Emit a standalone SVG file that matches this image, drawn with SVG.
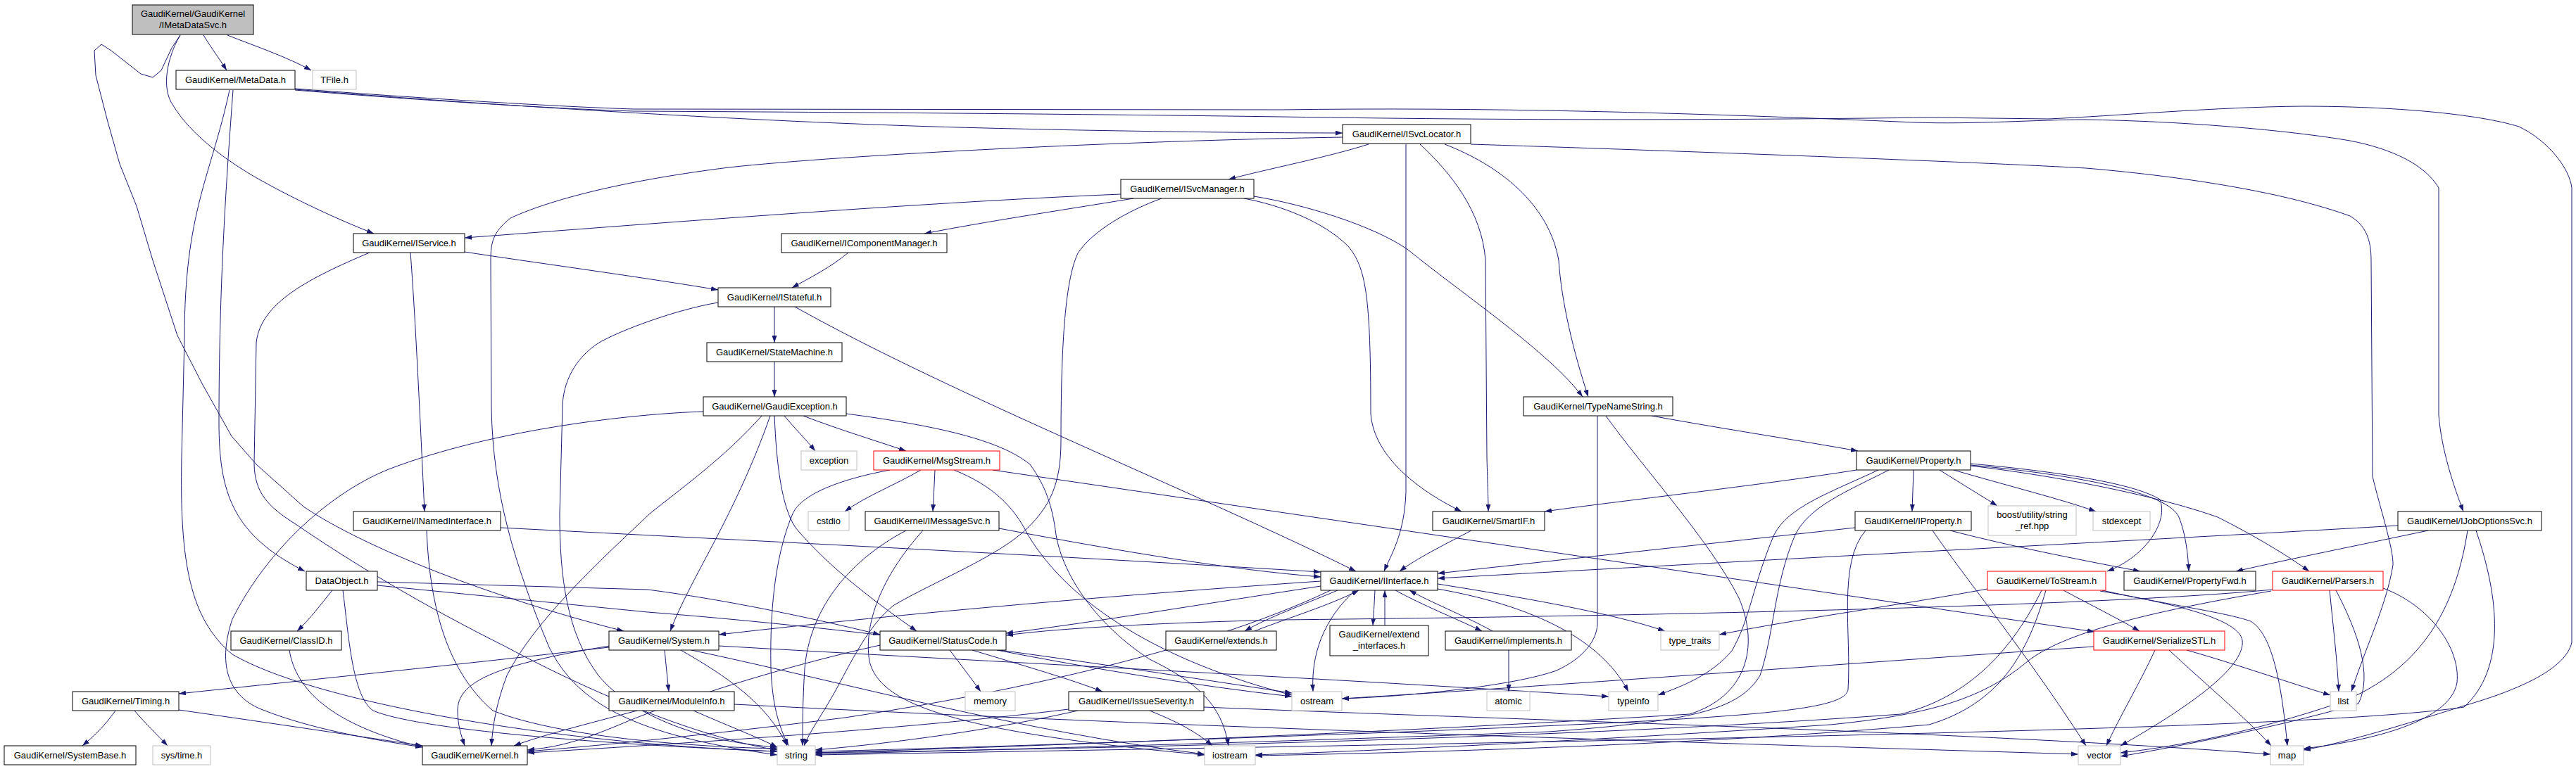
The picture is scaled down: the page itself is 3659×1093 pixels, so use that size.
<svg xmlns="http://www.w3.org/2000/svg" width="3659" height="1093" viewBox="0 0 3659 1093">
<style>
.node rect{fill:#ffffff;stroke:#000000;stroke-width:1}
.node.gr rect{stroke:#bfbfbf}
.node.rd rect{stroke:#ff0000}
.node.root rect{fill:#bfbfbf}
.node text{font-family:"Liberation Sans",Arial,Helvetica,sans-serif;font-size:13px;text-anchor:middle;fill:#000000}
#edges path{fill:none;stroke:#191970;stroke-width:1;marker-end:url(#a)}
</style>
<defs>
<marker id="a" viewBox="0 0 10 7" refX="10" refY="3.5" markerWidth="10" markerHeight="7" markerUnits="userSpaceOnUse" orient="auto"><path d="M0,0 L10,3.5 L0,7 z" fill="#191970"/></marker>
</defs>
<rect width="3659" height="1093" fill="#ffffff"/>
<g id="edges">
<path d="M289,50 C300,68 312,84 322,100"/>
<path d="M323,50 C364,66 410,82 442,100"/>
<path d="M256,50 C238,80 228,125 246,150 C270,190 320,228 370,256 C420,284 480,312 531,332"/>
<path d="M256,50 L244,68 L229,100 L217,110 L200,105 L158,72 L144,63 L134,72 L136,107 L153,173 L170,233 L194,293 L217,370 L252,477 L288,547 L329,620 L364,660 L431,720 C520,780 700,850 886,897"/>
<path d="M419,127 C700,150 1100,175 1400,182 C1600,187 1800,189 1907,189"/>
<path d="M419,126 C600,140 800,152 900,155 L1820,156 C2100,152 2400,160 2720,174 C2800,177 2900,170 2960,170 C3100,172 3250,185 3338,200 C3400,212 3445,235 3464,267 L3464,590 C3468,640 3485,690 3499,727"/>
<path d="M419,128 C600,143 800,155 900,158 C1300,160 1600,163 1820,166 C2200,172 2500,170 2740,167 L2910,169 C3000,165 3150,152 3270,151 C3400,151 3520,162 3578,180 C3620,200 3650,240 3653,267 L3653,913 C3645,950 3580,980 3500,1003 C3400,1035 3320,1058 3272,1066"/>
<path d="M331,128 C322,250 311,400 311,600 C311,700 330,760 433,812"/>
<path d="M326,128 C300,250 262,300 262,480 L258,650 C255,800 270,880 330,930 C450,1000 800,1058 1104,1068"/>
<path d="M1944,205 C1880,225 1800,240 1745,255"/>
<path d="M1997,205 L1997,700 C1995,760 1975,790 1966,812"/>
<path d="M2017,205 C2060,245 2105,300 2110,370 L2112,650 C2113,690 2114,710 2114,727"/>
<path d="M2052,205 C2130,235 2200,290 2214,370 C2218,430 2235,500 2256,564"/>
<path d="M2089,205 C2400,215 2800,230 2963,239 C3115,252 3250,275 3338,307 C3360,320 3368,340 3368,370 L3370,677 C3380,720 3400,780 3399,803 C3390,860 3360,920 3340,983"/>
<path d="M1907,195 C1600,200 1200,220 1035,238 C900,255 790,280 725,310 C700,330 697,345 697,370 L698,580 C700,700 730,800 780,920 C820,1000 900,1045 1104,1073"/>
<path d="M1592,276 C1300,288 900,320 660,338"/>
<path d="M1610,282 C1500,300 1400,315 1313,332"/>
<path d="M1650,282 C1600,300 1550,330 1531,360 C1512,400 1507,500 1507,627 C1507,690 1490,720 1460,750 C1420,790 1330,825 1270,860 C1230,890 1200,960 1182,990 C1165,1020 1150,1040 1142,1060"/>
<path d="M1767,282 C1820,292 1880,315 1915,350 C1940,380 1947,420 1947,587 C1950,640 2000,690 2076,727"/>
<path d="M1781,279 C1850,290 1950,320 2000,355 C2080,420 2200,500 2248,564"/>
<path d="M1205,359 C1180,380 1150,395 1125,409"/>
<path d="M660,358 C750,372 900,392 1020,412"/>
<path d="M583,359 C590,450 597,600 603,727"/>
<path d="M525,359 C440,395 370,430 364,487 L361,660 C362,700 380,720 420,745 C500,800 600,860 720,920 C850,990 1000,1050 1104,1066"/>
<path d="M1100,436 L1100,487"/>
<path d="M1129,436 C1350,560 1700,700 1926,812"/>
<path d="M1020,430 C960,440 880,470 851,487 C815,510 800,545 799,577 L795,730 C795,820 805,900 850,960 C900,1020 1000,1055 1104,1062"/>
<path d="M1100,514 L1100,564"/>
<path d="M1114,591 C1130,610 1145,625 1158,641"/>
<path d="M1141,591 C1190,610 1240,625 1287,641"/>
<path d="M1094,591 C1070,660 1040,720 1030,740 C1000,800 970,850 952,897"/>
<path d="M1100,591 C1103,660 1110,720 1130,750 C1180,810 1250,860 1302,897"/>
<path d="M999,585 C900,588 700,610 552,667 C470,700 380,780 330,880 C310,940 320,990 376,1010 C440,1035 520,1050 600,1062"/>
<path d="M1082,591 C1030,650 960,700 923,730 C860,790 760,880 720,960 C705,1000 700,1030 698,1060"/>
<path d="M1202,588 C1330,605 1420,625 1463,660 C1485,690 1495,720 1500,760 C1510,820 1560,890 1633,937 C1700,970 1735,1000 1745,1060"/>
<path d="M1308,668 C1270,690 1230,705 1200,727"/>
<path d="M1328,668 C1327,690 1326,710 1325,727"/>
<path d="M1264,668 C1200,680 1140,700 1126,730 C1105,780 1093,850 1095,950 C1097,1000 1105,1030 1120,1060"/>
<path d="M1355,668 C1410,690 1440,720 1460,760 C1520,860 1650,940 1835,988"/>
<path d="M1410,668 L2975,898"/>
<path d="M1419,751 C1600,785 1750,810 1876,820"/>
<path d="M1287,754 C1200,800 1150,870 1143,950 C1140,1000 1140,1030 1140,1060"/>
<path d="M1311,754 C1260,810 1225,880 1235,940 C1250,1000 1350,1040 1711,1073"/>
<path d="M2346,591 C2450,610 2550,625 2639,641"/>
<path d="M2269,591 L2269,887 C2268,910 2250,935 2211,953 C2150,975 2000,990 1906,993"/>
<path d="M2281,591 C2330,660 2430,770 2470,850 C2500,920 2480,990 2400,1015 C2000,1040 1500,1060 1158,1070"/>
<path d="M2637,668 C2500,690 2300,712 2194,727"/>
<path d="M2668,668 C2600,700 2540,720 2520,760 C2490,830 2486,880 2460,925 C2430,960 2390,975 2355,988"/>
<path d="M2683,668 C2620,700 2570,720 2550,760 C2520,830 2520,900 2500,960 C2470,1010 2400,1025 2200,1040 C1800,1055 1400,1066 1158,1072"/>
<path d="M2718,668 L2716,727"/>
<path d="M2755,668 C2790,690 2815,705 2837,719"/>
<path d="M2775,668 C2850,690 2930,710 2977,727"/>
<path d="M2799,659 C2900,668 3030,685 3068,710 C3080,740 3050,790 2993,812"/>
<path d="M2799,661 C2950,675 3080,700 3095,735 C3105,760 3108,790 3109,812"/>
<path d="M2799,662 C2950,680 3080,710 3150,735 C3200,760 3250,790 3280,812"/>
<path d="M2635,750 L2042,815"/>
<path d="M2770,754 C2850,775 2950,795 3040,812"/>
<path d="M2745,754 C2790,820 2880,930 2963,1060"/>
<path d="M2650,754 C2610,800 2630,900 2625,980 C2620,1010 2500,1020 2000,1040 C1600,1055 1300,1065 1158,1068"/>
<path d="M3406,747 C3100,765 2700,785 2042,822"/>
<path d="M3449,754 C3350,775 3250,795 3176,812"/>
<path d="M3505,754 C3490,850 3450,950 3320,1000 C3200,1040 3100,1060 3012,1070"/>
<path d="M3517,754 C3550,850 3560,950 3500,1005 C3300,1035 2500,1050 1158,1073"/>
<path d="M3385,836 C3450,860 3495,920 3490,970 C3480,1030 3350,1055 3272,1064"/>
<path d="M3309,839 C3314,890 3320,940 3322,983"/>
<path d="M3318,839 C3350,900 3370,960 3350,1000 C3250,1030 3100,1060 3012,1075"/>
<path d="M3228,838 C3000,860 2400,875 1820,881 C1650,885 1500,893 1429,903"/>
<path d="M3226,840 C3050,870 2930,900 2880,940 C2820,990 2750,1015 2600,1030 C2300,1050 2000,1065 1783,1073"/>
<path d="M2931,839 C2970,860 3010,880 3039,897"/>
<path d="M2986,839 C3080,860 3160,870 3197,883 C3225,900 3240,960 3249,1060"/>
<path d="M2983,840 C3090,858 3180,880 3185,910 C3190,950 3100,1010 3012,1060"/>
<path d="M2823,837 C2700,860 2550,880 2442,902"/>
<path d="M2900,839 C2860,920 2800,990 2700,1015 C2300,1045 1700,1062 1158,1070"/>
<path d="M2906,839 C2880,930 2840,1000 2740,1030 C2400,1060 2000,1070 1783,1074"/>
<path d="M3061,924 C3040,970 3010,1020 2992,1060"/>
<path d="M3081,924 C3130,970 3190,1020 3226,1060"/>
<path d="M3106,924 C3180,945 3250,970 3310,988"/>
<path d="M2974,919 C2600,945 2200,975 1906,993"/>
<path d="M2090,754 C2050,775 2010,795 1988,812"/>
<path d="M1876,826 C1600,845 1300,870 1021,902"/>
<path d="M1876,833 C1700,860 1550,885 1429,900"/>
<path d="M1890,839 C1700,930 1400,990 1200,1020 C1000,1045 850,1060 749,1068"/>
<path d="M1900,839 C1850,860 1800,878 1768,897"/>
<path d="M1782,897 C1830,878 1890,860 1930,839"/>
<path d="M1953,839 C1952,860 1951,875 1950,889"/>
<path d="M1967,889 C1967,870 1967,855 1967,839"/>
<path d="M1982,839 C2020,860 2070,880 2105,897"/>
<path d="M2120,897 C2080,875 2030,855 2002,839"/>
<path d="M2143,924 L2143,983"/>
<path d="M1925,839 C1880,880 1862,930 1865,983"/>
<path d="M2042,837 C2200,865 2280,920 2313,983"/>
<path d="M2042,830 C2200,855 2300,875 2365,897"/>
<path d="M1349,924 C1365,945 1380,965 1393,983"/>
<path d="M1381,924 C1450,945 1520,965 1566,983"/>
<path d="M1416,924 C1550,950 1700,975 1835,990"/>
<path d="M1250,917 C1100,950 950,1000 880,1030 C820,1055 790,1062 749,1066"/>
<path d="M1633,1010 C1670,1025 1700,1040 1722,1060"/>
<path d="M1531,1010 C1400,1040 1250,1058 1158,1066"/>
<path d="M1710,1005 C2200,1025 2800,1040 3225,1072"/>
<path d="M1518,1008 C1300,1035 1000,1055 749,1070"/>
<path d="M865,920 C650,945 450,965 254,986"/>
<path d="M944,924 C946,945 948,965 950,983"/>
<path d="M866,918 C700,945 650,970 650,1010 C650,1030 655,1045 660,1060"/>
<path d="M967,924 C1030,960 1090,1000 1118,1060"/>
<path d="M1021,918 C1400,940 1900,965 2285,990"/>
<path d="M982,924 C1200,970 1450,1040 1711,1072"/>
<path d="M472,839 C455,860 440,880 422,897"/>
<path d="M487,839 C495,900 500,990 530,1010 C600,1040 900,1060 1104,1068"/>
<path d="M536,827 L920,838 C1050,855 1180,885 1250,902"/>
<path d="M536,832 L920,870 C1300,900 1600,950 1835,985"/>
<path d="M411,924 C420,980 470,1030 600,1062"/>
<path d="M164,1010 C150,1030 135,1045 117,1060"/>
<path d="M191,1010 C208,1030 224,1045 238,1060"/>
<path d="M254,1009 C400,1030 500,1045 600,1060"/>
<path d="M905,1010 C830,1030 770,1045 730,1060"/>
<path d="M985,1010 C1030,1030 1070,1045 1104,1062"/>
<path d="M1043,1001 C1700,1035 2400,1055 2952,1072"/>
<path d="M711,750 C1100,770 1500,790 1876,813"/>
<path d="M606,754 C610,850 630,950 700,1010 C800,1050 1000,1062 1104,1064"/>
</g>
<g id="n-root" class="node root"><rect x="188" y="7" width="172" height="42"/><text x="274" y="24">GaudiKernel/GaudiKernel</text><text x="274" y="40">/IMetaDataSvc.h</text></g>
<g id="n-MetaData" class="node"><rect x="250" y="100" width="169" height="27"/><text x="334.5" y="118">GaudiKernel/MetaData.h</text></g>
<g id="n-TFile" class="node gr"><rect x="444" y="100" width="62" height="27"/><text x="475" y="118">TFile.h</text></g>
<g id="n-IService" class="node"><rect x="502" y="332" width="158" height="27"/><text x="581" y="350">GaudiKernel/IService.h</text></g>
<g id="n-ISvcManager" class="node"><rect x="1592" y="255" width="189" height="27"/><text x="1686.5" y="273">GaudiKernel/ISvcManager.h</text></g>
<g id="n-IComponentManager" class="node"><rect x="1110" y="332" width="235" height="27"/><text x="1227.5" y="350">GaudiKernel/IComponentManager.h</text></g>
<g id="n-ISvcLocator" class="node"><rect x="1907" y="177" width="182" height="27"/><text x="1998" y="195">GaudiKernel/ISvcLocator.h</text></g>
<g id="n-IStateful" class="node"><rect x="1020" y="409" width="160" height="27"/><text x="1100" y="427">GaudiKernel/IStateful.h</text></g>
<g id="n-StateMachine" class="node"><rect x="1004" y="487" width="192" height="27"/><text x="1100" y="505">GaudiKernel/StateMachine.h</text></g>
<g id="n-GaudiException" class="node"><rect x="999" y="564" width="203" height="27"/><text x="1100.5" y="582">GaudiKernel/GaudiException.h</text></g>
<g id="n-exception" class="node gr"><rect x="1138" y="641" width="79" height="27"/><text x="1177.5" y="659">exception</text></g>
<g id="n-MsgStream" class="node rd"><rect x="1241" y="641" width="179" height="27"/><text x="1330.5" y="659">GaudiKernel/MsgStream.h</text></g>
<g id="n-TypeNameString" class="node"><rect x="2164" y="564" width="212" height="27"/><text x="2270" y="582">GaudiKernel/TypeNameString.h</text></g>
<g id="n-Property" class="node"><rect x="2637" y="641" width="162" height="27"/><text x="2718" y="659">GaudiKernel/Property.h</text></g>
<g id="n-INamedInterface" class="node"><rect x="502" y="727" width="209" height="27"/><text x="606.5" y="745">GaudiKernel/INamedInterface.h</text></g>
<g id="n-cstdio" class="node gr"><rect x="1148" y="727" width="58" height="27"/><text x="1177" y="745">cstdio</text></g>
<g id="n-IMessageSvc" class="node"><rect x="1229" y="727" width="190" height="27"/><text x="1324" y="745">GaudiKernel/IMessageSvc.h</text></g>
<g id="n-SmartIF" class="node"><rect x="2035" y="727" width="159" height="27"/><text x="2114.5" y="745">GaudiKernel/SmartIF.h</text></g>
<g id="n-IProperty" class="node"><rect x="2635" y="727" width="165" height="27"/><text x="2717.5" y="745">GaudiKernel/IProperty.h</text></g>
<g id="n-string_ref" class="node gr"><rect x="2824" y="719" width="125" height="42"/><text x="2886.5" y="736">boost/utility/string</text><text x="2886.5" y="752">_ref.hpp</text></g>
<g id="n-stdexcept" class="node gr"><rect x="2973" y="727" width="81" height="27"/><text x="3013.5" y="745">stdexcept</text></g>
<g id="n-IJobOptionsSvc" class="node"><rect x="3406" y="727" width="204" height="27"/><text x="3508" y="745">GaudiKernel/IJobOptionsSvc.h</text></g>
<g id="n-DataObject" class="node"><rect x="435" y="812" width="101" height="27"/><text x="485.5" y="830">DataObject.h</text></g>
<g id="n-IInterface" class="node"><rect x="1876" y="812" width="166" height="27"/><text x="1959" y="830">GaudiKernel/IInterface.h</text></g>
<g id="n-ToStream" class="node rd"><rect x="2823" y="812" width="168" height="27"/><text x="2907" y="830">GaudiKernel/ToStream.h</text></g>
<g id="n-PropertyFwd" class="node"><rect x="3017" y="812" width="187" height="27"/><text x="3110.5" y="830">GaudiKernel/PropertyFwd.h</text></g>
<g id="n-Parsers" class="node rd"><rect x="3228" y="812" width="157" height="27"/><text x="3306.5" y="830">GaudiKernel/Parsers.h</text></g>
<g id="n-ClassID" class="node"><rect x="328" y="897" width="157" height="27"/><text x="406.5" y="915">GaudiKernel/ClassID.h</text></g>
<g id="n-System" class="node"><rect x="865" y="897" width="156" height="27"/><text x="943" y="915">GaudiKernel/System.h</text></g>
<g id="n-StatusCode" class="node"><rect x="1250" y="897" width="179" height="27"/><text x="1339.5" y="915">GaudiKernel/StatusCode.h</text></g>
<g id="n-extends" class="node"><rect x="1656" y="897" width="157" height="27"/><text x="1734.5" y="915">GaudiKernel/extends.h</text></g>
<g id="n-extend_interfaces" class="node"><rect x="1889" y="889" width="140" height="43"/><text x="1959" y="906">GaudiKernel/extend</text><text x="1959" y="922">_interfaces.h</text></g>
<g id="n-implements" class="node"><rect x="2053" y="897" width="179" height="27"/><text x="2142.5" y="915">GaudiKernel/implements.h</text></g>
<g id="n-type_traits" class="node gr"><rect x="2359" y="897" width="83" height="27"/><text x="2400.5" y="915">type_traits</text></g>
<g id="n-SerializeSTL" class="node rd"><rect x="2974" y="897" width="186" height="27"/><text x="3067" y="915">GaudiKernel/SerializeSTL.h</text></g>
<g id="n-Timing" class="node"><rect x="103" y="983" width="151" height="27"/><text x="178.5" y="1001">GaudiKernel/Timing.h</text></g>
<g id="n-ModuleInfo" class="node"><rect x="865" y="983" width="178" height="27"/><text x="954" y="1001">GaudiKernel/ModuleInfo.h</text></g>
<g id="n-memory" class="node gr"><rect x="1371" y="983" width="71" height="27"/><text x="1406.5" y="1001">memory</text></g>
<g id="n-IssueSeverity" class="node"><rect x="1518" y="983" width="192" height="27"/><text x="1614" y="1001">GaudiKernel/IssueSeverity.h</text></g>
<g id="n-ostream" class="node gr"><rect x="1835" y="983" width="71" height="27"/><text x="1870.5" y="1001">ostream</text></g>
<g id="n-atomic" class="node gr"><rect x="2112" y="983" width="61" height="27"/><text x="2142.5" y="1001">atomic</text></g>
<g id="n-typeinfo" class="node gr"><rect x="2285" y="983" width="70" height="27"/><text x="2320" y="1001">typeinfo</text></g>
<g id="n-list" class="node gr"><rect x="3310" y="983" width="37" height="27"/><text x="3328.5" y="1001">list</text></g>
<g id="n-SystemBase" class="node"><rect x="6" y="1060" width="187" height="27"/><text x="99.5" y="1078">GaudiKernel/SystemBase.h</text></g>
<g id="n-systime" class="node gr"><rect x="217" y="1060" width="82" height="27"/><text x="258" y="1078">sys/time.h</text></g>
<g id="n-Kernel" class="node"><rect x="600" y="1060" width="149" height="27"/><text x="674.5" y="1078">GaudiKernel/Kernel.h</text></g>
<g id="n-string" class="node gr"><rect x="1104" y="1060" width="54" height="27"/><text x="1131" y="1078">string</text></g>
<g id="n-iostream" class="node gr"><rect x="1711" y="1060" width="72" height="27"/><text x="1747" y="1078">iostream</text></g>
<g id="n-vector" class="node gr"><rect x="2952" y="1060" width="60" height="27"/><text x="2982" y="1078">vector</text></g>
<g id="n-map" class="node gr"><rect x="3225" y="1060" width="47" height="27"/><text x="3248.5" y="1078">map</text></g>
</svg>
